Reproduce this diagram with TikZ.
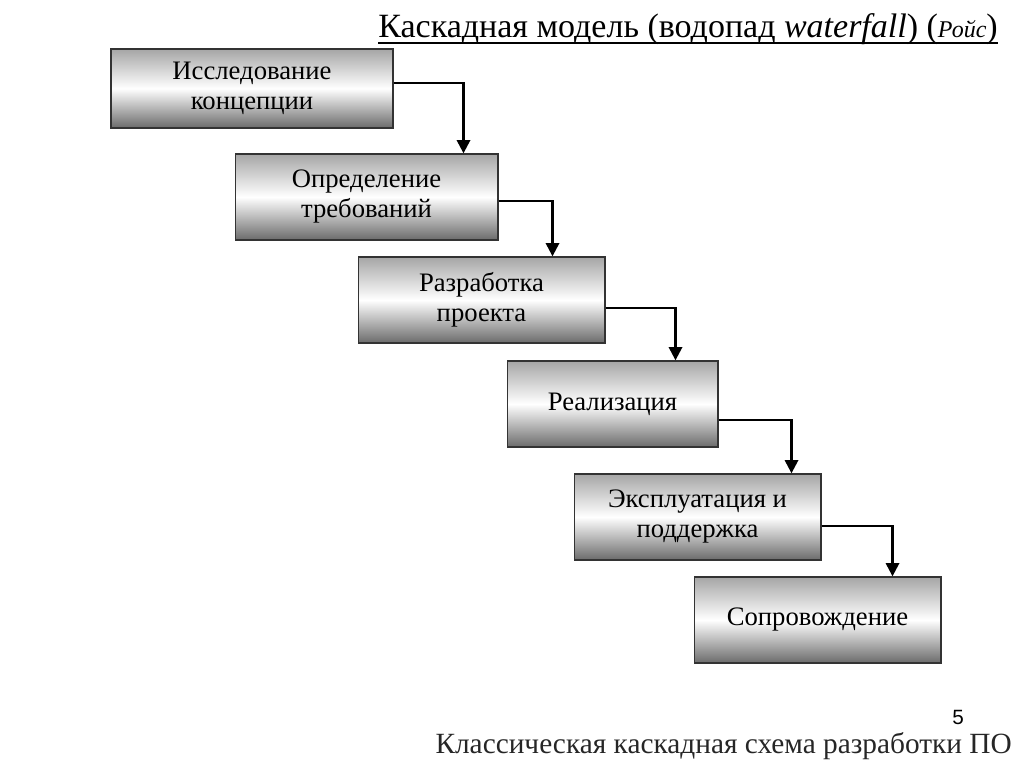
\documentclass[tikz,border=0pt]{standalone}
\usepackage{fontspec}
\setmainfont{Liberation Serif}
\setsansfont{Liberation Sans}
\usetikzlibrary{arrows.meta, positioning, calc}

\begin{document}
\begin{tikzpicture}[
      x=0.75pt, y=-0.75pt,
      box/.style={draw=black!80, line width=1pt, minimum width=185pt,
                  minimum height=64.5pt, align=center, inner sep=0pt,
                  top color=black!35, bottom color=black!58, middle color=white,
                  font=\fontsize{20}{22.5}\selectfont},
      arr/.style={-{Triangle[length=10pt, width=10pt]}, line width=1.8pt, black},
      txt/.style={inner sep=0pt}
   ]
      \useasboundingbox (0,0) rectangle (1024,767);

      \node[txt, anchor=base east, font=\fontsize{25.5}{30}\selectfont] (title) at (998,38)
         {Каскадная модель (водопад \textit{waterfall}) (\textit{\fontsize{18}{20}\selectfont Ройс})};
      \draw[line width=1.1pt] ([yshift=-3.8pt]title.base west) -- ([yshift=-3.8pt]title.base east);

      \node[box, minimum width=211.5pt, minimum height=59pt] (K) at (252,88.5) {Исследование\\концепции};
      \node[box, minimum width=197pt] (T) at (366.5,197) {Определение\\требований};
      \node[box] (P) at (481.5,300) {Разработка\\проекта};
      \node[box, minimum width=158pt] (R) at (612.5,404) {Реализация};
      \node[box] (E) at (697.5,517) {Эксплуатация и\\поддержка};
      \node[box] (S) at (817.5,620) {Сопровождение};

      \draw[arr] ([yshift=4pt]K.east) -| ([xshift=-26.25pt]T.north east);
      \draw[arr] ([yshift=-3pt]T.east) -| ([xshift=-39.75pt]P.north east);
      \draw[arr] ([yshift=-6pt]P.east) -| ([xshift=-32.25pt]R.north east);
      \draw[arr] ([yshift=-12pt]R.east) -| ([xshift=-22.5pt]E.north east);
      \draw[arr] ([yshift=-6.75pt]E.east) -| ([xshift=-36.75pt]S.north east);

      \node[txt, font=\sffamily\fontsize{15.5}{18}\selectfont] (page) at (958,717.5) {5};
      \node[txt, anchor=base east, text=black!85, font=\fontsize{22}{26}\selectfont] (caption) at (1012,753)
         {Классическая каскадная схема разработки ПО};
   \end{tikzpicture}
\end{document}
